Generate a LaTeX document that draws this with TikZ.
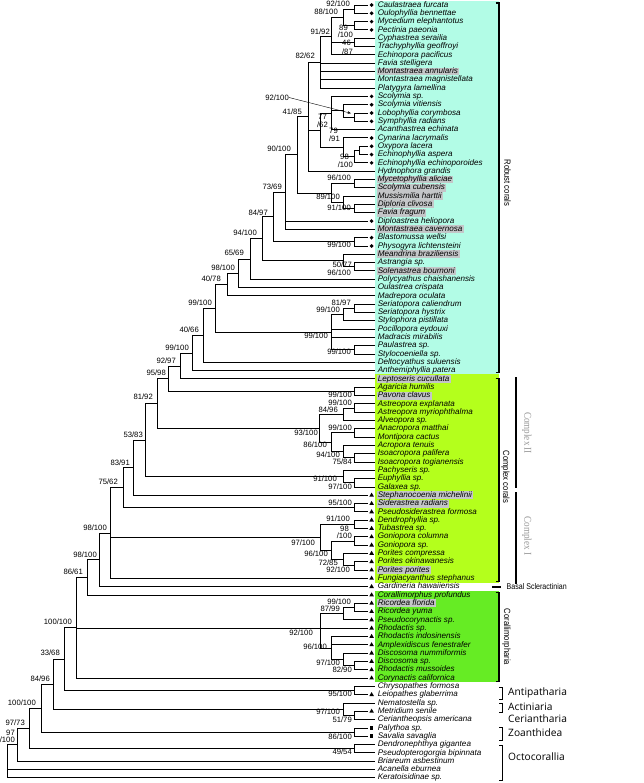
\documentclass[tikz,border=0pt]{standalone}
\usepackage{fontspec}
\setmainfont{Liberation Sans}
\newfontfamily\osans{Open Sans}
\newfontfamily\tserif{Liberation Serif}
\usetikzlibrary{calc,shapes.geometric,arrows.meta}
\definecolor{robustc}{RGB}{178,252,230}
\definecolor{complexc}{RGB}{180,255,28}
\definecolor{corallc}{RGB}{102,236,36}
\definecolor{hlgray}{RGB}{196,198,200}
\definecolor{cxgray}{RGB}{150,150,150}
\newcounter{lbl}
\newcommand\clade[4]{\path let \p1=($(#3)!0.5!(#4)$) in coordinate (#1) at (#2pt,\y1);}
\newcommand\kids[2]{\foreach \c in {#2}{\draw[br] (#1) |- (\c);}}
\newcommand\taxon[3]{\pgfmathsetmacro\yy{5+(#1-1)*8.31}%
  \coordinate (t#1) at (375,\yy);%
  \node[tax,#3] (n#1) at (376.3,\yy) {#2};}
\newcommand\sym[2]{\pgfmathsetmacro\yy{5+(#1-1)*8.31}%
  \coordinate (t#1) at (367.8,\yy);%
  \node[#2] (s#1) at (371.6,\yy) {};}
\newcommand\bs[3]{\stepcounter{lbl}\node[sup] (lbl\thelbl) at (#1,#2) {#3};}
\begin{document}
\begin{tikzpicture}[x=1pt,y=-1pt,
  br/.style={line width=0.95pt},
  tax/.style={anchor=west,inner xsep=1.3pt,inner ysep=0.4pt,text height=5.7pt,text depth=1.4pt,font=\fontsize{8.1}{8}\selectfont\itshape},
  hl/.style={fill=hlgray},
  sup/.style={anchor=east,inner sep=0pt,font=\fontsize{7.7}{8}\selectfont},
  dotsym/.style={circle,fill=black,inner sep=0pt,minimum size=3.9pt},
  trisym/.style={regular polygon,regular polygon sides=3,fill=black,inner sep=0pt,minimum size=5.4pt},
  sqsym/.style={rectangle,fill=black,inner sep=0pt,minimum size=3.6pt},
  clab/.style={rotate=-90,inner sep=0pt,font=\fontsize{9}{9}\selectfont},
  cxlab/.style={rotate=-90,inner sep=0pt,text=cxgray,font=\tserif\fontsize{10.5}{10.5}\selectfont},
  olab/.style={anchor=west,inner sep=0pt,font=\osans\fontsize{10.2}{10.2}\selectfont},
  brk/.style={line width=1.5pt}]
\useasboundingbox (0,0) rectangle (644,783);
% coloured boxes
\fill[robustc] (375,1) rectangle (498.5,373.8);
\fill[complexc] (375,373.8) rectangle (498.5,582.6);
\fill[corallc] (375,590.8) rectangle (498.5,682.3);
% taxa
\taxon{1}{Caulastraea furcata}{}
\taxon{2}{Oulophyllia bennettae}{}
\taxon{3}{Mycedium elephantotus}{}
\taxon{4}{Pectinia paeonia}{}
\taxon{5}{Cyphastrea serailia}{}
\taxon{6}{Trachyphyllia geoffroyi}{}
\taxon{7}{Echinopora pacificus}{}
\taxon{8}{Favia stelligera}{}
\taxon{9}{Montastraea annularis}{hl}
\taxon{10}{Montastraea magnistellata}{}
\taxon{11}{Platygyra lamellina}{}
\taxon{12}{Scolymia sp.}{}
\taxon{13}{Scolymia vitiensis}{}
\taxon{14}{Lobophyllia corymbosa}{}
\taxon{15}{Symphyllia radians}{}
\taxon{16}{Acanthastrea echinata}{}
\taxon{17}{Cynarina lacrymalis}{}
\taxon{18}{Oxypora lacera}{}
\taxon{19}{Echinophyllia aspera}{}
\taxon{20}{Echinophyllia echinoporoides}{}
\taxon{21}{Hydnophora grandis}{}
\taxon{22}{Mycetophyllia aliciae}{hl}
\taxon{23}{Scolymia cubensis}{hl}
\taxon{24}{Mussismilia harttii}{hl}
\taxon{25}{Diploria clivosa}{hl}
\taxon{26}{Favia fragum}{hl}
\taxon{27}{Diploastrea heliopora}{}
\taxon{28}{Montastraea cavernosa}{hl}
\taxon{29}{Blastomussa wellsi}{}
\taxon{30}{Physogyra lichtensteini}{}
\taxon{31}{Meandrina braziliensis}{hl}
\taxon{32}{Astrangia sp.}{}
\taxon{33}{Solenastrea bournoni}{hl}
\taxon{34}{Polycyathus chaishanensis}{}
\taxon{35}{Oulastrea crispata}{}
\taxon{36}{Madrepora oculata}{}
\taxon{37}{Seriatopora caliendrum}{}
\taxon{38}{Seriatopora hystrix}{}
\taxon{39}{Stylophora pistillata}{}
\taxon{40}{Pocillopora eydouxi}{}
\taxon{41}{Madracis mirabilis}{}
\taxon{42}{Paulastrea sp.}{}
\taxon{43}{Stylocoeniella sp.}{}
\taxon{44}{Deltocyathus suluensis}{}
\taxon{45}{Anthemiphyllia patera}{}
\taxon{46}{Leptoseris cucullata}{hl}
\taxon{47}{Agaricia humilis}{}
\taxon{48}{Pavona clavus}{hl}
\taxon{49}{Astreopora explanata}{}
\taxon{50}{Astreopora myriophthalma}{}
\taxon{51}{Alveopora sp.}{}
\taxon{52}{Anacropora matthai}{}
\taxon{53}{Montipora cactus}{}
\taxon{54}{Acropora tenuis}{}
\taxon{55}{Isoacropora palifera}{}
\taxon{56}{Isoacropora togianensis}{}
\taxon{57}{Pachyseris sp.}{}
\taxon{58}{Euphyllia sp.}{}
\taxon{59}{Galaxea sp.}{}
\taxon{60}{Stephanocoenia michelinii}{hl}
\taxon{61}{Siderastrea radians}{hl}
\taxon{62}{Pseudosiderastrea formosa}{}
\taxon{63}{Dendrophyllia sp.}{}
\taxon{64}{Tubastrea sp.}{}
\taxon{65}{Goniopora columna}{}
\taxon{66}{Goniopora sp.}{}
\taxon{67}{Porites compressa}{}
\taxon{68}{Porites okinawanesis}{}
\taxon{69}{Porites porites}{hl}
\taxon{70}{Fungiacyanthus stephanus}{}
\taxon{71}{Gardineria hawaiiensis}{}
\taxon{72}{Corallimorphus profundus}{}
\taxon{73}{Ricordea florida}{hl}
\taxon{74}{Ricordea yuma}{}
\taxon{75}{Pseudocorynactis sp.}{}
\taxon{76}{Rhodactis sp.}{}
\taxon{77}{Rhodactis indosinensis}{}
\taxon{78}{Amplexidiscus fenestrafer}{}
\taxon{79}{Discosoma nummiformis}{}
\taxon{80}{Discosoma sp.}{}
\taxon{81}{Rhodactis mussoides}{}
\taxon{82}{Corynactis californica}{}
\taxon{83}{Chrysopathes formosa}{}
\taxon{84}{Leiopathes glaberrima}{}
\taxon{85}{Nematostella sp.}{}
\taxon{86}{Metridium senile}{}
\taxon{87}{Ceriantheopsis americana}{}
\taxon{88}{Palythoa sp.}{}
\taxon{89}{Savalia savaglia}{}
\taxon{90}{Dendronephthya gigantea}{}
\taxon{91}{Pseudopterogorgia bipinnata}{}
\taxon{92}{Briareum asbestinum}{}
\taxon{93}{Acanella eburnea}{}
\taxon{94}{Keratoisidinae sp.}{}
% symbols (also shorten the tip lines in front of them)
\foreach \i in {1,2,3,4,12,13,14,15,17,18,19,20,27,29,30}{\sym{\i}{dotsym}}
\foreach \i in {60,61,...,82,84,86}{\sym{\i}{trisym}}
\foreach \i in {88,89}{\sym{\i}{sqsym}}
% ---- tree: robust corals
\clade{n12}{354}{t1}{t2}\kids{n12}{t1,t2}
\clade{n34}{354}{t3}{t4}\kids{n34}{t3,t4}
\clade{A}{343}{n12}{n34}\kids{A}{n12,n34}
\clade{n56}{354}{t5}{t6}\kids{n56}{t5,t6}
\clade{N9192}{331}{A}{t7}\kids{N9192}{A,n56,t7}
\clade{N8262}{320}{N9192}{t11}\kids{N8262}{N9192,t8,t9,t10,t11}
\clade{n1415}{354}{t14}{t15}\kids{n1415}{t14,t15}
\clade{D}{343}{t13}{n1415}\kids{D}{t13,n1415}
\clade{E}{331}{t12}{t16}\kids{E}{t12,D,t16}
\clade{n1819}{359}{t18}{t19}\kids{n1819}{t18,t19}
\clade{F}{354}{n1819}{t20}\kids{F}{n1819,t20}
\clade{G}{343}{t17}{F}\kids{G}{t17,F}
\clade{H}{320}{E}{G}\kids{H}{E,G}
\clade{N4185}{308}{N8262}{t21}\kids{N4185}{N8262,H,t21}
\clade{n2223}{354}{t22}{t23}\kids{n2223}{t22,t23}
\clade{n2526}{354}{t25}{t26}\kids{n2526}{t25,t26}
\clade{N24}{343}{t24}{n2526}\kids{N24}{t24,n2526}
\clade{M}{331}{n2223}{N24}\kids{M}{n2223,N24}
\clade{N90100}{297}{N4185}{M}\kids{N90100}{N4185,M}
\clade{N7369}{285}{N90100}{t28}\kids{N7369}{N90100,t27,t28}
\clade{n2930}{354}{t29}{t30}\kids{n2930}{t29,t30}
\clade{N8497}{273}{N7369}{n2930}\kids{N8497}{N7369,n2930}
\clade{n3233}{354}{t32}{t33}\kids{n3233}{t32,t33}
\clade{P}{343}{t31}{n3233}\kids{P}{t31,n3233}
\clade{N94100r}{262}{N8497}{P}\kids{N94100r}{N8497,P}
\clade{N6569}{250}{N94100r}{t34}\kids{N6569}{N94100r,t34}
\clade{N98100r}{238}{N6569}{t35}\kids{N98100r}{N6569,t35}
\clade{N4078}{227}{N98100r}{t36}\kids{N4078}{N98100r,t36}
\clade{n3738}{354}{t37}{t38}\kids{n3738}{t37,t38}
\clade{S}{343}{n3738}{t39}\kids{S}{n3738,t39}
\clade{n4243}{354}{t42}{t43}\kids{n4243}{t42,t43}
\clade{Q}{331}{S}{n4243}\kids{Q}{S,t40,t41,n4243}
\clade{N99100f}{215}{N4078}{Q}\kids{N99100f}{N4078,Q}
\clade{N4066}{203}{N99100f}{t44}\kids{N4066}{N99100f,t44}
\clade{N99100g}{192}{N4066}{t45}\kids{N99100g}{N4066,t45}
\clade{N9297}{180}{N99100g}{t46}\kids{N9297}{N99100g,t46}
% ---- complex corals
\clade{n4748}{354}{t47}{t48}\kids{n4748}{t47,t48}
\clade{N9598}{168}{N9297}{n4748}\kids{N9598}{N9297,n4748}
\clade{n4950}{354}{t49}{t50}\kids{n4950}{t49,t50}
\clade{N8496c}{343}{n4950}{t51}\kids{N8496c}{n4950,t51}
\clade{n5253}{354}{t52}{t53}\kids{n5253}{t52,t53}
\clade{n5556}{354}{t55}{t56}\kids{n5556}{t55,t56}
\clade{N94100c}{343}{t54}{n5556}\kids{N94100c}{t54,n5556}
\clade{N86100}{331}{n5253}{N94100c}\kids{N86100}{n5253,N94100c}
\clade{N93100}{319}{N8496c}{N86100}\kids{N93100}{N8496c,N86100}
\clade{N8192}{157}{N9598}{N93100}\kids{N8192}{N9598,N93100}
\clade{n5859}{354}{t58}{t59}\kids{n5859}{t58,t59}
\clade{N91100}{343}{t57}{n5859}\kids{N91100}{t57,n5859}
\clade{N5383}{145}{N8192}{N91100}\kids{N5383}{N8192,N91100}
\clade{N8391}{133}{N5383}{t60}\kids{N8391}{N5383,t60}
\clade{n6162}{354}{t61}{t62}\kids{n6162}{t61,t62}
\clade{N7562}{123}{N8391}{n6162}\kids{N7562}{N8391,n6162}
\clade{n6364}{354}{t63}{t64}\kids{n6364}{t63,t64}
\clade{n6566}{354}{t65}{t66}\kids{n6566}{t65,t66}
\clade{n6869}{354}{t68}{t69}\kids{n6869}{t68,t69}
\clade{N7285}{343}{t67}{n6869}\kids{N7285}{t67,n6869}
\clade{N96100d}{331}{n6566}{N7285}\kids{N96100d}{n6566,N7285}
\clade{N97100d}{320}{n6364}{N96100d}\kids{N97100d}{n6364,N96100d}
\clade{N98100a}{110}{N7562}{t70}\kids{N98100a}{N7562,N97100d,t70}
\clade{N98100b}{99}{N98100a}{t71}\kids{N98100b}{N98100a,t71}
\clade{N8661}{87}{N98100b}{t72}\kids{N8661}{N98100b,t72}
% ---- corallimorpharia and outgroups
\clade{n7374}{354}{t73}{t74}\kids{n7374}{t73,t74}
\clade{N8799}{343}{n7374}{t75}\kids{N8799}{n7374,t75}
\clade{n8081}{354}{t80}{t81}\kids{n8081}{t80,t81}
\clade{N97100c}{343}{t79}{n8081}\kids{N97100c}{t79,n8081}
\clade{N96100c}{331}{t77}{N97100c}\kids{N96100c}{t77,t78,N97100c}
\coordinate (N92100) at (320,628.3);\kids{N92100}{N8799,t76,N96100c}
\clade{N100100a}{76}{N8661}{t82}\kids{N100100a}{N8661,N92100,t82}
\clade{n8384}{354}{t83}{t84}\kids{n8384}{t83,t84}
\clade{N3368}{64}{N100100a}{n8384}\kids{N3368}{N100100a,n8384}
\clade{n8687}{354}{t86}{t87}\kids{n8687}{t86,t87}
\clade{N97100e}{343}{t85}{n8687}\kids{N97100e}{t85,n8687}
\clade{N8496}{53}{N3368}{N97100e}\kids{N8496}{N3368,N97100e}
\clade{n8889}{354}{t88}{t89}\kids{n8889}{t88,t89}
\clade{N100100b}{41}{N8496}{n8889}\kids{N100100b}{N8496,n8889}
\clade{n9091}{354}{t90}{t91}\kids{n9091}{t90,t91}
\clade{N9773}{29}{N100100b}{n9091}\kids{N9773}{N100100b,n9091}
\clade{N97}{17}{N9773}{t92}\kids{N97}{N9773,t92}
\clade{Rt}{7}{N97}{t94}\kids{Rt}{N97,t93,t94}
% ---- support values
\bs{350}{4}{92/100}
\bs{338}{12}{88/100}
\bs{348}{27.5}{89}
\bs{353}{35}{/100}
\bs{330}{32}{91/92}
\bs{351}{43}{46}
\bs{353}{51.5}{/87}
\bs{315}{56}{82/62}
\bs{289}{97.5}{92/100}
\coordinate (arrtip) at (351,113.3);
\draw[-{Stealth[length=3.5pt,width=2.6pt]},line width=0.4pt] (lbl\thelbl.east) -- (arrtip);
\bs{302}{112}{41/85}
\bs{327}{116.5}{77}
\bs{328}{124.5}{/62}
\bs{338}{131}{79}
\bs{340}{138.5}{/91}
\bs{291}{149}{90/100}
\bs{349}{157}{98}
\bs{353}{164.5}{/100}
\bs{351}{178}{96/100}
\bs{282}{187}{73/69}
\bs{340}{197}{89/100}
\bs{351}{208}{91/100}
\bs{268}{213}{84/97}
\bs{257}{233}{94/100}
\bs{351}{245}{99/100}
\bs{244}{253}{65/69}
\bs{352}{264.5}{50/77}
\bs{235}{268}{98/100}
\bs{351}{272.5}{96/100}
\bs{221}{279}{40/78}
\bs{212}{303}{99/100}
\bs{351}{303}{81/97}
\bs{340}{310}{99/100}
\bs{199}{330}{40/66}
\bs{328}{336}{99/100}
\bs{189}{348}{99/100}
\bs{351}{352}{99/100}
\bs{176}{361}{92/97}
\bs{166}{373}{95/98}
\bs{352}{395}{99/100}
\bs{153}{397}{81/92}
\bs{352}{402.5}{99/100}
\bs{338}{410}{84/96}
\bs{352}{428}{99/100}
\bs{318}{433}{93/100}
\bs{143}{435}{53/83}
\bs{327}{445}{86/100}
\bs{340}{455}{94/100}
\bs{352}{462}{75/84}
\bs{130}{463}{83/91}
\bs{337}{479}{91/100}
\bs{118}{482}{75/62}
\bs{352}{487}{97/100}
\bs{352}{503}{95/100}
\bs{350}{519}{91/100}
\bs{107}{528}{98/100}
\bs{349}{528.5}{98}
\bs{352}{536}{/100}
\bs{315}{543}{97/100}
\bs{328}{554}{96/100}
\bs{97}{555}{98/100}
\bs{338}{563}{72/85}
\bs{350}{570}{92/100}
\bs{83}{572}{86/61}
\bs{351}{602}{99/100}
\bs{340}{609}{87/99}
\bs{72}{622}{100/100}
\bs{313}{633}{92/100}
\bs{327}{647}{96/100}
\bs{60}{653}{33/68}
\bs{340}{663}{97/100}
\bs{352}{669.5}{82/90}
\bs{50}{679}{84/96}
\bs{352}{694}{95/100}
\bs{36}{703}{100/100}
\bs{340}{712}{97/100}
\bs{352}{720}{51/79}
\bs{25}{723}{97/73}
\bs{15}{733}{97}
\bs{15}{740}{/100}
\bs{352}{737}{86/100}
\bs{352}{752}{49/54}
% ---- brackets and group labels
\draw[brk] (495.5,3) -- (498.8,3) -- (498.8,372.5) -- (495.5,372.5);
\draw[brk] (495.5,378.5) -- (498.8,378.5) -- (498.8,581.5) -- (495.5,581.5);
\draw[brk] (495.5,592.5) -- (498.8,592.5) -- (498.8,681.5) -- (495.5,681.5);
\draw[line width=1.4pt] (516,377) -- (516,488);
\draw[line width=1.4pt] (516,492) -- (516,584);
\draw[line width=2.6pt] (492,587) -- (501,587);
\node[clab] (lrob) at (507.5,183) {\scalebox{0.85}[1]{Robust corals}};
\node[clab] (lcpx) at (505.5,477) {\scalebox{0.85}[1]{Complex corals}};
\node[clab] (lcor) at (506.5,637) {\scalebox{0.85}[1]{Corallimorpharia}};
\node[cxlab] (lc2) at (527,433) {\scalebox{0.87}[1]{Complex II}};
\node[cxlab] (lc1) at (527,536) {\scalebox{0.87}[1]{Complex I}};
\node[anchor=west,inner sep=0pt,font=\fontsize{8.3}{8.3}\selectfont] (lbas) at (506.5,587) {\scalebox{0.85}[1]{Basal Scleractinian}};
\draw[line width=0.9pt] (499,687) -- (502.5,687) -- (502.5,699) -- (499,699);
\draw[line width=0.9pt] (499,703) -- (502.5,703) -- (502.5,712) -- (499,712);
\draw[line width=0.9pt] (499,727) -- (502.5,727) -- (502.5,740) -- (499,740);
\draw[line width=0.9pt] (499,745) -- (502.5,745) -- (502.5,780) -- (499,780);
\node[olab] (lant) at (508,693) {Antipatharia};
\node[olab] (lact) at (508,706.5) {Actiniaria};
\node[olab] (lcer) at (508,719) {Ceriantharia};
\node[olab] (lzoa) at (508,732.5) {Zoanthidea};
\node[olab] (loct) at (508,757) {Octocorallia};
\end{tikzpicture}
\end{document}
